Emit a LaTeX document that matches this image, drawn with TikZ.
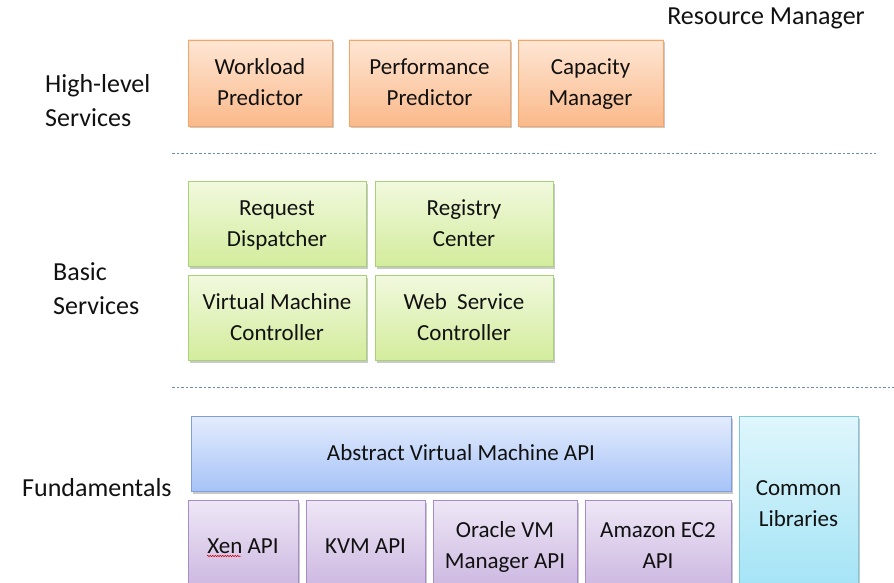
\documentclass[tikz,border=0pt]{standalone}
\usepackage{fontspec}
\setmainfont{Carlito}
\usetikzlibrary{shadows,decorations.pathmorphing,calc}
\definecolor{orT}{HTML}{FEE6D4}
\definecolor{orBt}{HTML}{FAB98A}
\definecolor{orD}{HTML}{F6A564}
\definecolor{grT}{HTML}{F1F9DE}
\definecolor{grBt}{HTML}{D3EC9C}
\definecolor{grD}{HTML}{A9D177}
\definecolor{blT}{HTML}{E4ECFD}
\definecolor{blBt}{HTML}{A6C3F7}
\definecolor{blD}{HTML}{7F9FDC}
\definecolor{puT}{HTML}{EEE7F6}
\definecolor{puBt}{HTML}{CBB5E0}
\definecolor{puD}{HTML}{A68DC6}
\definecolor{cyT}{HTML}{DFF6FC}
\definecolor{cyBt}{HTML}{A2E3F5}
\definecolor{cyD}{HTML}{7DC9DB}
\definecolor{sepC}{HTML}{6D8DB5}
\definecolor{txt}{HTML}{111111}
\newcommand\bxs{\rule[-8.1pt]{0pt}{31pt}}
\begin{document}
\begin{tikzpicture}[x=1pt,y=-1pt,
  box/.style={draw, line width=0.8pt, align=center, text=txt, inner sep=0pt,
    font=\fontsize{23}{31}\selectfont,
    drop shadow={opacity=0.3, shadow xshift=1.5pt, shadow yshift=-2.5pt, fill=black!70}},
  orangebox/.style={box, draw=orD, top color=orT, bottom color=orBt},
  greenbox/.style={box, draw=grD, top color=grT, bottom color=grBt},
  bluebox/.style={box, draw=blD, top color=blT, bottom color=blBt},
  purplebox/.style={box, draw=puD, top color=puT, bottom color=puBt},
  cyanbox/.style={box, draw=cyD, top color=cyT, bottom color=cyBt},
  lbl/.style={font=\fontsize{26}{34}\selectfont, align=left, inner sep=0pt, text=txt},
  sepline/.style={draw=sepC, line width=0.8pt, dash pattern=on 2.5pt off 2pt}]
\useasboundingbox (0,0) rectangle (894,583);

% labels
\node[lbl, anchor=base] (rm) at (766,25) {Resource Manager};
\node[lbl, anchor=west] (hl) at (45,101) {High-level\\Services};
\node[lbl, anchor=west] (bs) at (53,288.5) {Basic\\Services};
\node[lbl, anchor=west] (fu) at (22,488) {Fundamentals};

% high-level
\node[orangebox, minimum width=144, minimum height=86] (wp) at (260,83) {\bxs Workload\\\bxs Predictor};
\node[orangebox, minimum width=161, minimum height=86] (pp) at (429.5,83) {\bxs Performance\\\bxs Predictor};
\node[orangebox, minimum width=145, minimum height=86] (cm) at (590.5,83) {\bxs Capacity\\\bxs Manager};

% separators
\coordinate (s1a) at (172,153);
\coordinate (s1b) at (876,153);
\coordinate (s2a) at (172,387);
\coordinate (s2b) at (894,387);
\draw[sepline] (s1a) -- (s1b);
\draw[sepline] (s2a) -- (s2b);

% basic
\node[greenbox, minimum width=178, minimum height=85] (rd) at (277,223.5) {\bxs Request\\\bxs Dispatcher};
\node[greenbox, minimum width=178, minimum height=85] (rc) at (464,223.5) {\bxs Registry\\\bxs Center};
\node[greenbox, minimum width=178, minimum height=85] (vmc) at (277,317.5) {\bxs Virtual Machine\\\bxs Controller};
\node[greenbox, minimum width=178, minimum height=85] (wsc) at (464,317.5) {\bxs Web\ \ Service\\\bxs Controller};

% fundamentals
\node[bluebox, minimum width=540, minimum height=75] (avm) at (461,453.5) {\bxs Abstract Virtual Machine API};
\node[cyanbox, minimum width=119, minimum height=176] (cl) at (798.5,504) {\bxs Common\\\bxs Libraries};
\node[purplebox, minimum width=110, minimum height=92] (xen) at (243,546) {\bxs Xen API};
\node[purplebox, minimum width=119, minimum height=92] (kvm) at (365.5,546) {\bxs KVM API};
\node[purplebox, minimum width=144, minimum height=92] (ovm) at (505,546) {\bxs Oracle VM\\\bxs Manager API};
\node[purplebox, minimum width=146, minimum height=92] (ec2) at (658,546) {\bxs Amazon EC2\\\bxs API};

% spell-check squiggle under "Xen"
\draw[red!85!black, line width=0.5pt, decorate, decoration={snake, amplitude=0.8pt, segment length=2.5pt}]
  ($(xen.center)+(-36,10)$) -- ($(xen.center)+(-2,10)$);
\end{tikzpicture}
\end{document}
